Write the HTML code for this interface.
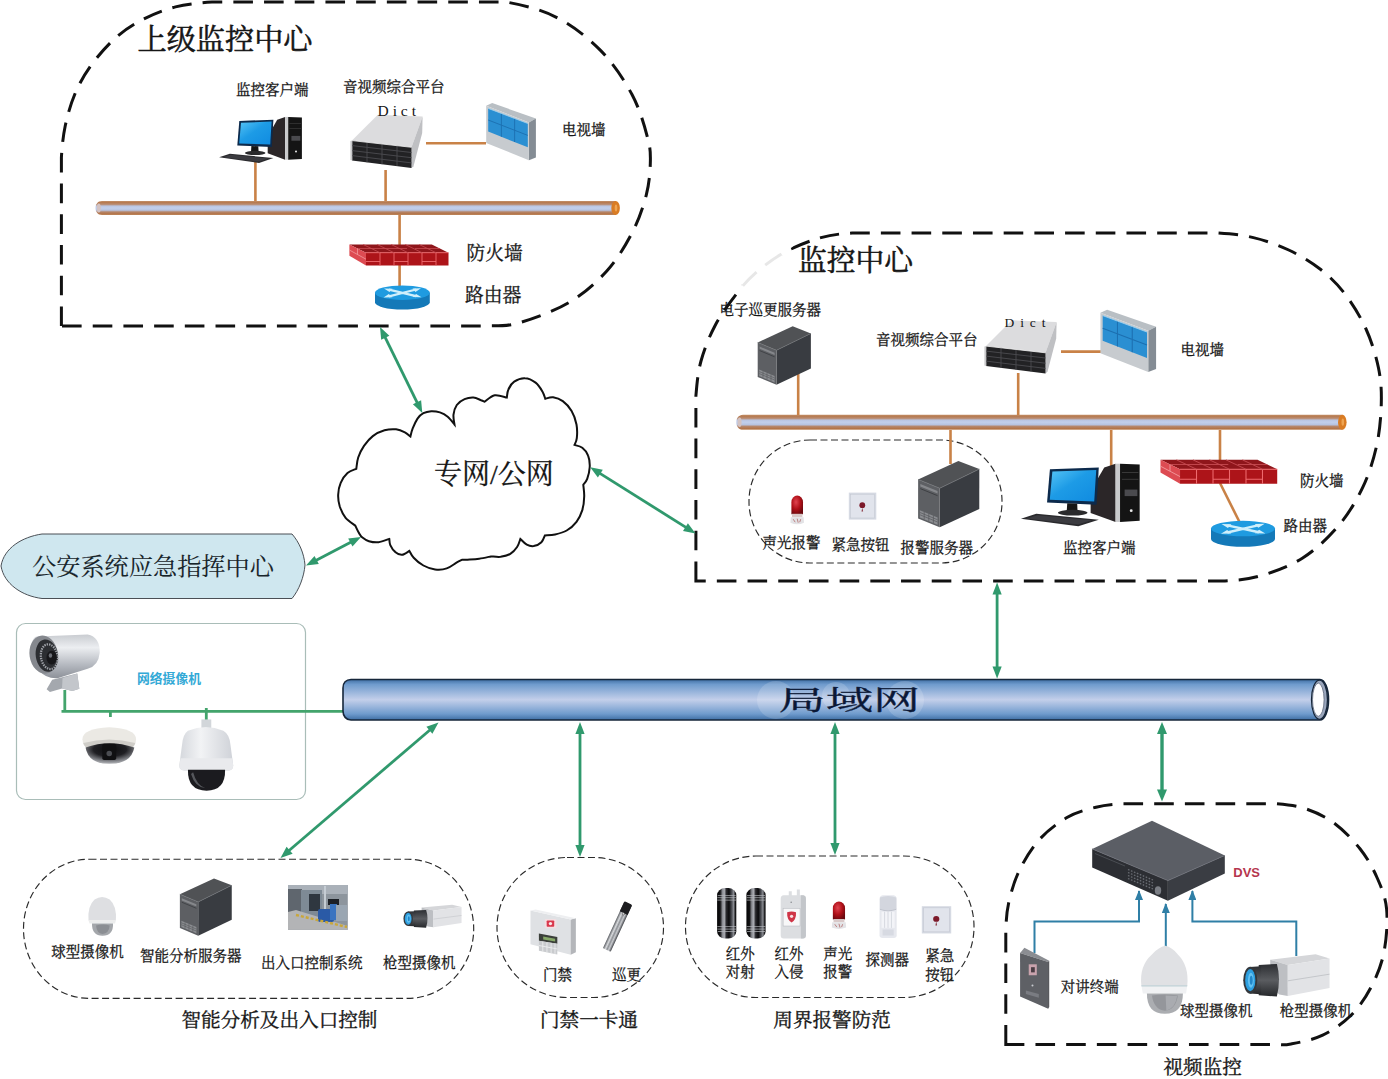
<!DOCTYPE html>
<html lang="zh-CN">
<head>
<meta charset="utf-8">
<title>监控系统拓扑图</title>
<style>
html,body{margin:0;padding:0;background:#fff;overflow:hidden}
svg{display:block}
text{font-family:"Liberation Serif","Noto Serif CJK SC",serif;fill:#151515;stroke:#151515;stroke-width:0.28px}
.t14{font-size:14.5px}
.t19{font-size:19.6px;stroke-width:0.35px}
.t29{font-size:29px;stroke-width:0.55px}
.sans{font-family:"Liberation Sans","Noto Sans CJK SC",sans-serif;stroke:none}
.or{stroke:#c98247;stroke-width:2.6;fill:none}
.gr{stroke:#43a46c;stroke-width:2.8;fill:none}
.bl{stroke:#2f7fa6;stroke-width:2;fill:none}
.bd{stroke:#111;stroke-width:3;fill:none;stroke-dasharray:19.6 11.1}
.sd{stroke:#2a2a2a;stroke-width:1.15;fill:none;stroke-dasharray:7 3.5}
</style>
</head>
<body>
<svg width="1388" height="1079" viewBox="0 0 1388 1079">
<defs>
<linearGradient id="gLan" x1="0" y1="0" x2="0" y2="1">
<stop offset="0" stop-color="#3f6fa5"/><stop offset="0.12" stop-color="#6f9bcd"/><stop offset="0.5" stop-color="#c3cfea"/><stop offset="0.85" stop-color="#6f9bcd"/><stop offset="1" stop-color="#3f6fa5"/>
</linearGradient>
<linearGradient id="gBus" x1="0" y1="0" x2="0" y2="1">
<stop offset="0" stop-color="#c4916a"/><stop offset="0.1" stop-color="#b67a50"/><stop offset="0.24" stop-color="#b98b70"/><stop offset="0.36" stop-color="#b9c5e2"/><stop offset="0.5" stop-color="#c2cfeb"/><stop offset="0.66" stop-color="#b7c3e0"/><stop offset="0.78" stop-color="#b6866a"/><stop offset="0.92" stop-color="#b27448"/><stop offset="1" stop-color="#c08a60"/>
</linearGradient>
<marker id="ag" viewBox="0 0 12 10" refX="11" refY="5" markerWidth="12" markerHeight="10" markerUnits="userSpaceOnUse" orient="auto-start-reverse">
<path d="M0,0.6L12,5L0,9.4Z" fill="#2f9c66"/>
</marker>
<marker id="ab" viewBox="0 0 10 8" refX="9" refY="4" markerWidth="11" markerHeight="8" markerUnits="userSpaceOnUse" orient="auto">
<path d="M0,0L10,4L0,8Z" fill="#2f7fa6"/>
</marker>
<linearGradient id="gScr" x1="0" y1="0" x2="1" y2="1"><stop offset="0" stop-color="#55c3f5"/><stop offset="0.45" stop-color="#1d9be6"/><stop offset="1" stop-color="#108be0"/></linearGradient>
<g id="pc">
<path d="M58.2,3.7L66.1,0.9L66.1,43.7L48.7,37.2L48.7,20.7Z" fill="#2b2628"/>
<rect x="66.1" y="0.9" width="3.2" height="42.8" fill="#c9cacc"/>
<path d="M69.2,0.9L82.9,1.4L82.9,42.9L69.2,43.7Z" fill="#141414"/>
<rect x="72.4" y="19.9" width="8.9" height="4.8" fill="#4a4a4e"/>
<rect x="70.5" y="7" width="11.5" height="0.7" fill="#3a3a3a"/><rect x="70.5" y="12" width="11.5" height="0.7" fill="#3a3a3a"/>
<circle cx="77" cy="35.4" r="1" fill="#e8e8e8"/>
<path d="M20.3,4.9L54.4,3.7L52.8,31L18.3,29.4Z" fill="#0c2a4c"/>
<path d="M22,6.7L52.6,5.6L51.2,28.6L20.2,27.4Z" fill="url(#gScr)"/>
<path d="M32.4,30L39.3,30.3L39.6,35.8L32,35.8Z" fill="#161616"/>
<ellipse cx="36.2" cy="36.9" rx="10.3" ry="2.1" fill="#2a2a2c"/>
<path d="M0.1,41.3L10.8,37.7L54.4,42.1L40.1,46.9Z" fill="#2a2a2d"/>
<path d="M4,41.2L11.5,38.8L49.5,42.4L40,45.5Z" fill="#3b3b40"/>
</g>
<g id="rack">
<path d="M0,26.6L25.8,0.8L70.6,2.4L59.5,33.3Z" fill="#dcdcde"/>
<path d="M59.5,33.3L70.6,2.4L70.2,19L61.5,52.3L59.5,53.9Z" fill="#bfc0c3"/>
<path d="M0,26.6L59.5,33.3L59.5,53.9L0,46.4Z" fill="#222224"/>
<path d="M-1.6,27L0.4,26.6L0.4,46.6L-1.6,46Z" fill="#c8c8ca"/>
<path d="M0,31.6L59.5,38.5M0,36.6L59.5,43.7M0,41.6L59.5,48.9M15,28.3L15,48.3M30,30L30,50.2M45,31.7L45,52" stroke="#4c4c50" stroke-width="0.9" fill="none"/>
<path d="M0,26.6L59.5,33.3" stroke="#f2f2f2" stroke-width="0.8"/>
</g>
<g id="tv">
<path d="M0.2,2.7L6.2,0L49.9,15.6L42.9,19.4Z" fill="#b9bfc4"/>
<path d="M42.9,19.4L49.9,15.6L49.9,54.5L42.9,57.2Z" fill="#848c94"/>
<path d="M0.2,2.7L42.9,19.4L42.9,57.2L0.2,40Z" fill="#c7cbcf"/>
<path d="M2.2,5.4L41.8,20.5L41.8,44.3L2.2,28.6Z" fill="#2a8fd2"/>
<path d="M2.2,17L41.8,32.4M15.4,10.4L15.4,33.8M28.6,15.4L28.6,39" stroke="#1c6fb0" stroke-width="0.9" fill="none"/>
<path d="M2.2,5.4L41.8,20.5" stroke="#9ad0f0" stroke-width="0.8"/>
</g>
<g id="fw">
<path d="M0.4,0.4L82.8,0.4L99.5,8.7L17,8.7Z" fill="#8f161b"/>
<path d="M0.4,0.4L17,8.7L17,21.6L0.4,11.7Z" fill="#dd4b52"/>
<path d="M17,8.7L99.5,8.7L99.5,21.6L17,21.6Z" fill="#ad1419"/>
<path d="M17,8.7L99.5,8.7M17,17.5L31,17.5M45,17.5L59,17.5M73,17.5L87,17.5M31,8.7L31,21.6M45,8.7L45,21.6M59,8.7L59,21.6M73,8.7L73,21.6M87,8.7L87,21.6" stroke="#ee6a6e" stroke-width="0.9" fill="none"/>
<path d="M14,0.4L31,8.7M28,0.4L45,8.7M42,0.4L59,8.7M56,0.4L73,8.7M70,0.4L87,8.7M8.7,4.5L58,4.5M66,4.5L91,4.5" stroke="#c54a50" stroke-width="0.8" fill="none"/>
<path d="M0.4,6L17,15.2M8.5,4.5L8.5,10.5" stroke="#f2999c" stroke-width="0.8" fill="none"/>
</g>
<g id="router">
<path d="M0,7.2L0,16.8A27.4,7.2 0 0 0 54.8,16.8L54.8,7.2Z" fill="#1479b8"/>
<ellipse cx="27.4" cy="7.2" rx="27.4" ry="7.2" fill="#1f9be0"/>
<path d="M14,4.2L41,10.6M41,4L14,10.8" stroke="#cfeffb" stroke-width="2.3" fill="none"/>
<path d="M9,3L17.500,3.2L14.500,6.6ZM46,2.8L37.500,3L40.500,6.400ZM8.500,12L17.500,11.8L13.800,8.600ZM46.500,11.8L37.500,11.6L41.200,8.400Z" fill="#cfeffb"/>
</g>
<g id="tower">
<path d="M0.7,16.5L35.7,0.3L53.9,7.4L19.5,24.3Z" fill="#505255"/>
<path d="M19.5,24.3L53.9,7.4L53.9,42.5L19.5,58.7Z" fill="#393c41"/>
<path d="M0.7,16.5L19.5,24.3L19.5,58.7L0.7,50.9Z" fill="#5d5f63"/>
<path d="M2.6,20.6L17.6,26.8L17.6,29L2.6,22.8Z" fill="#85878b"/>
<path d="M2.6,24.6L17.6,30.8" stroke="#3a3c40" stroke-width="0.8"/>
<path d="M2.2,43.6L17.6,50L17.6,56.4L2.2,50Z" fill="#8a8c90"/>
<path d="M2.2,45.6L17.6,52M2.2,47.6L17.6,54M6,45.2L6,51.6M10,46.8L10,53.2M14,48.5L14,54.9" stroke="#55575b" stroke-width="0.6" fill="none"/>
<path d="M0.7,16.5L19.5,24.3L53.9,7.4" stroke="#707276" stroke-width="0.7" fill="none"/>
</g>
<radialGradient id="gSir" cx="0.4" cy="0.35" r="0.7"><stop offset="0" stop-color="#e04450"/><stop offset="0.55" stop-color="#b01018"/><stop offset="1" stop-color="#6a080e"/></radialGradient>
<g id="siren">
<path d="M1.2,19L1.2,7A5.8,6.6 0 0 1 12.8,7L12.8,19Z" fill="url(#gSir)"/>
<rect x="1.8" y="18.6" width="10.4" height="3.4" fill="#d9c9c9"/>
<path d="M0.6,22L13.4,22L13.8,27.5Q7,30.5 0.2,27.5Z" fill="#e3e3e6"/>
<path d="M3,24L5,27M7,23.5L8,27.5M10.5,24L9.5,27" stroke="#b36a6a" stroke-width="0.8"/>
</g>
<g id="ebtn">
<rect x="0" y="0" width="27.5" height="27" fill="#d6dae3"/>
<rect x="1.6" y="1.6" width="24.3" height="23.8" fill="#e1e4ec" stroke="#c4c8d2" stroke-width="0.6"/>
<circle cx="13.5" cy="12.6" r="2.9" fill="#7c1a2a"/>
<path d="M13.5,15L12.7,19L14.3,19Z" fill="#8b3a46"/>
</g>
<linearGradient id="gSilv" x1="0" y1="0" x2="0" y2="1"><stop offset="0" stop-color="#c9ccd1"/><stop offset="0.3" stop-color="#eceef1"/><stop offset="0.7" stop-color="#b4b8bf"/><stop offset="1" stop-color="#8d9199"/></linearGradient>
<radialGradient id="gDomeGlass" cx="0.5" cy="0.3" r="0.75"><stop offset="0" stop-color="#0c0c0e"/><stop offset="0.45" stop-color="#1f1f23"/><stop offset="0.8" stop-color="#8f9196"/><stop offset="1" stop-color="#c8c9cc"/></radialGradient>
<linearGradient id="gPtz" x1="0" y1="0" x2="1" y2="0"><stop offset="0" stop-color="#d4d7dc"/><stop offset="0.4" stop-color="#f2f3f5"/><stop offset="1" stop-color="#cfd2d8"/></linearGradient>
<linearGradient id="gLens" x1="0" y1="0" x2="0" y2="1"><stop offset="0" stop-color="#2c2e32"/><stop offset="0.5" stop-color="#5a5c60"/><stop offset="1" stop-color="#26282b"/></linearGradient>
<g id="boxcam">
<path d="M415,245L790,200L905,235L560,290Z" fill="#d5d6d9"/>
<path d="M415,245L560,290L560,545L490,532L415,470Z" fill="#bdbfc3"/>
<path d="M560,290L905,235L905,480L560,545Z" fill="#e2e3e6"/>
<path d="M560,420L905,365" stroke="#b9bbbf" stroke-width="6" fill="none"/>
<path d="M320,290L470,280Q505,400 470,550L320,540Z" fill="url(#gLens)"/>
<path d="M245,305L340,300L340,530L245,525Z" fill="url(#gLens)"/>
<ellipse cx="250" cy="415" rx="58" ry="112" fill="#34373b"/>
<ellipse cx="250" cy="415" rx="42" ry="92" fill="#2d9fe0"/>
<ellipse cx="255" cy="415" rx="24" ry="62" fill="#63c2f2"/>
<ellipse cx="258" cy="415" rx="12" ry="38" fill="#2287c9"/>
</g>
<g id="sdome">
<path d="M30,170Q30,95 100,0Q170,95 170,170Z" fill="#dcdde0" transform="translate(0,0)"/>
</g>
<linearGradient id="gIR" x1="0" y1="0" x2="1" y2="0"><stop offset="0" stop-color="#050506"/><stop offset="0.16" stop-color="#111113"/><stop offset="0.28" stop-color="#8a8c92"/><stop offset="0.38" stop-color="#a9abb1"/><stop offset="0.48" stop-color="#2a2a2e"/><stop offset="0.62" stop-color="#0a0a0c"/><stop offset="0.76" stop-color="#4d4f55"/><stop offset="0.86" stop-color="#8a8c92"/><stop offset="0.95" stop-color="#19191b"/><stop offset="1" stop-color="#050506"/></linearGradient>
<g id="irbeam">
<rect x="0" y="0" width="19.2" height="50.4" rx="8" ry="7" fill="url(#gIR)"/>
<path d="M0.6,7.5L18.6,7.5M0.3,9.6L18.9,9.6M0.2,12L19,12M0.2,38.5L19,38.5M0.3,41L18.9,41M0.6,43.4L18.6,43.4" stroke="#b9bbc0" stroke-width="0.7" fill="none"/>
</g>
<linearGradient id="gStick" x1="0" y1="0" x2="1" y2="0"><stop offset="0" stop-color="#5a5d62"/><stop offset="0.3" stop-color="#d9dbde"/><stop offset="0.5" stop-color="#8e9196"/><stop offset="0.7" stop-color="#c9cbcf"/><stop offset="1" stop-color="#3e4045"/></linearGradient>
<!--ICONDEFS-->
</defs>
<rect width="1388" height="1079" fill="#fff"/>

<!-- ===== big dashed regions ===== -->
<path class="bd" d="M61.4,326L61.4,157.5C62.0,147.2 63.0,136.5 65.2,126.0C67.4,115.5 70.5,104.5 74.7,94.5C78.9,84.5 83.6,75.7 90.4,66.2C97.2,56.8 106.7,45.7 115.6,37.8C124.5,29.9 134.0,24.0 144.0,18.9C154.0,13.8 164.2,9.7 175.5,6.9C186.8,4.1 199.2,2.8 212.0,2.0L506,2C521.1,4.6 540.6,9.2 556.4,17.3C572.1,25.4 587.9,37.5 600.5,50.4C613.1,63.3 624.1,79.8 632.0,94.5C639.9,109.2 644.8,127.0 647.8,138.6C650.8,150.2 650.6,154.4 650.3,163.8C650.0,173.2 649.2,183.8 646.2,195.3C643.2,206.8 638.6,220.4 632.0,233.0C625.4,245.6 617.3,259.4 606.8,271.0C596.3,282.6 583.7,293.8 569.0,302.5C554.3,311.2 532.8,319.1 518.6,323.0C504.4,326.9 496.4,325.5 484.0,326.0Z"/>
<path class="bd" d="M695.9,581L695.9,396C696.8,385.2 697.8,372.7 701.0,361.0C704.2,349.3 709.1,336.9 715.0,325.7C720.9,314.5 729.6,302.8 736.4,294.0C743.2,285.2 747.5,279.9 755.7,272.8C763.9,265.8 774.8,257.6 785.7,251.7C796.6,245.8 810.0,240.7 821.0,237.6C832.0,234.5 841.0,233.8 852.0,233.0L1218,233C1229.7,233.8 1241.6,234.8 1253.4,237.6C1265.2,240.4 1277.5,244.7 1288.7,250.0C1299.9,255.3 1311.0,262.0 1320.4,269.3C1329.8,276.6 1337.4,284.1 1345.0,294.0C1352.6,303.9 1360.4,316.7 1366.0,329.0C1371.6,341.3 1376.0,355.7 1378.5,368.0C1381.0,380.3 1381.6,390.1 1381.3,403.0C1381.0,415.9 1379.8,431.3 1376.7,445.4C1373.6,459.5 1369.0,474.2 1362.6,487.7C1356.1,501.2 1348.0,514.7 1338.0,526.4C1328.0,538.1 1315.6,549.8 1302.7,558.0C1289.8,566.2 1273.5,572.0 1260.5,575.8C1247.5,579.6 1236.8,580.1 1225.0,581.0Z"/>
<path class="bd" d="M1005.8,1044.5L1005.8,929C1006.3,920.5 1006.5,912.8 1008.6,903.3C1010.8,893.8 1013.7,882.3 1018.7,871.8C1023.7,861.3 1030.7,849.3 1038.8,840.2C1046.9,831.1 1057.9,822.8 1067.4,817.3C1076.9,811.8 1087.1,809.5 1096.0,807.2C1104.9,805.0 1112.7,804.4 1121.0,803.8L1276.8,803.8C1286.2,804.6 1296.0,805.5 1305.5,808.7C1315.0,811.9 1324.9,816.3 1334.0,823.0C1343.1,829.7 1352.8,839.7 1360.0,848.8C1367.2,857.9 1372.6,867.5 1377.0,877.5C1381.4,887.5 1385.4,896.6 1386.6,909.0C1387.8,921.4 1386.5,939.1 1384.0,952.0C1381.5,964.9 1376.9,976.0 1371.4,986.5C1366.0,997.0 1359.4,1006.9 1351.3,1015.0C1343.2,1023.1 1332.8,1030.4 1322.7,1035.2C1312.7,1040.0 1299.1,1042.4 1291.0,1043.9C1282.9,1045.5 1280.2,1044.4 1274.0,1044.5Z"/>

<path d="M742,292L800,240L800,232L742,232Z" fill="#fff" opacity="0.9"/>
<!-- ===== small dashed regions ===== -->
<rect class="sd" x="23.5" y="859.2" width="450.2" height="139.2" rx="66" ry="69.6"/>
<rect class="sd" x="497" y="857.5" width="166.5" height="140" rx="70" ry="70"/>
<rect class="sd" x="685.5" y="856" width="288.5" height="141.5" rx="70.5"/>
<rect class="sd" x="749" y="440" width="253" height="123" rx="61"/>

<!-- ===== cloud ===== -->
<path id="cloud" fill="#fff" stroke="#111" stroke-width="2" stroke-linejoin="miter" d="M356.3,468.8C356.6,467.0 356.9,461.4 358.2,457.5C359.5,453.7 361.6,449.4 364.0,445.9C366.5,442.3 369.4,438.7 372.8,436.1C376.2,433.6 380.6,431.4 384.5,430.3C388.4,429.2 392.7,429.0 396.1,429.3C399.6,429.7 402.5,431.1 404.9,432.3C407.3,433.5 409.4,435.8 410.4,436.5C410.7,435.2 411.5,431.3 412.7,428.4C413.9,425.4 415.8,421.2 417.5,418.6C419.3,416.1 421.1,414.4 423.4,413.2C425.7,412.0 428.4,411.4 431.2,411.2C433.9,411.1 437.2,411.5 439.9,412.4C442.7,413.3 445.3,414.7 447.7,416.7C450.1,418.7 453.4,423.2 454.5,424.5C454.3,422.9 453.1,418.0 453.5,414.7C453.9,411.5 455.0,407.6 456.8,405.0C458.7,402.4 461.8,400.4 464.6,399.2C467.3,398.0 470.6,397.5 473.3,397.6C476.1,397.8 479.2,399.5 481.1,400.2C483.0,400.8 484.0,401.5 484.6,401.7C486.3,400.6 491.1,396.0 494.7,395.3C498.4,394.6 504.8,397.2 506.8,397.6C507.1,396.3 507.1,392.1 508.4,389.5C509.6,386.8 511.4,383.6 514.2,381.7C517.0,379.8 521.3,378.0 524.9,378.2C528.5,378.3 532.7,380.4 535.6,382.6C538.5,384.9 540.8,388.7 542.4,391.4C544.0,394.1 544.8,397.6 545.3,398.8C546.6,398.5 550.2,396.8 553.1,397.2C556.0,397.6 559.8,398.9 562.8,401.1C565.9,403.4 569.3,407.0 571.6,410.9C573.9,414.7 575.6,419.9 576.5,424.5C577.3,429.0 577.2,434.7 576.8,438.1C576.5,441.5 574.9,443.8 574.5,444.9C575.8,445.4 580.0,446.0 582.3,447.8C584.6,449.6 586.9,452.4 588.1,455.6C589.4,458.8 589.9,463.4 589.7,467.3C589.5,471.2 588.2,476.0 587.2,478.9C586.1,481.9 583.9,483.8 583.3,484.8C583.4,486.7 584.4,492.2 584.2,496.5C584.1,500.7 583.6,505.9 582.3,510.1C581.0,514.3 579.1,518.3 576.5,521.8C573.9,525.2 570.3,528.4 566.7,530.5C563.2,532.6 558.7,533.6 555.1,534.4C551.4,535.2 546.6,535.2 544.9,535.4C544.4,536.5 543.3,540.4 541.4,542.2C539.6,544.0 536.1,545.6 533.7,546.1C531.2,546.5 529.1,545.9 526.8,544.7C524.6,543.5 521.5,539.8 520.4,538.9C519.9,540.2 518.8,544.5 517.1,547.0C515.4,549.5 513.1,552.2 510.3,553.9C507.6,555.5 503.8,556.3 500.6,556.8C497.3,557.2 492.5,556.4 490.9,556.4C488.9,556.8 483.1,558.2 479.2,558.7C475.3,559.3 470.3,559.5 467.5,559.7C464.7,559.9 463.2,559.7 462.3,559.7C461.3,560.2 459.1,561.1 456.5,562.6C453.9,564.1 450.3,567.3 446.7,568.4C443.2,569.6 438.9,569.9 435.1,569.4C431.2,568.9 427.0,567.5 423.4,565.5C419.8,563.6 416.0,560.2 413.7,557.7C411.3,555.3 410.1,552.1 409.4,550.9C408.1,551.6 404.4,554.7 402.0,554.8C399.6,555.0 397.1,553.5 395.2,551.9C393.2,550.3 391.3,547.3 390.3,545.1C389.3,542.9 389.5,539.9 389.3,538.9C387.6,539.4 382.0,541.8 378.6,542.2C375.2,542.6 371.7,542.0 368.9,541.2C366.2,540.4 363.7,538.6 362.1,537.3C360.5,536.0 360.3,535.4 359.2,533.4C358.0,531.5 355.9,526.9 355.3,525.6C353.7,524.3 348.2,521.1 345.6,517.9C343.0,514.6 341.0,510.1 339.7,506.2C338.5,502.3 338.0,498.4 338.2,494.5C338.3,490.6 339.1,486.4 340.7,482.8C342.3,479.3 344.9,475.4 347.5,473.1C350.1,470.8 354.8,469.5 356.3,468.8Z"/>
<text x="434" y="484" font-size="28">专网/公网</text>

<!-- ===== command centre ===== -->
<path d="M1,566C4,548 22,537 42,534L292,534C299,542 304,553 305,565C304,577 299,590 292,598.5L42,598.5C22,596 4,584 1,566Z" fill="#cfe7ef" stroke="#4a4f55" stroke-width="1"/>
<text x="32" y="575" font-size="24.2" style="fill:#16242a;stroke-width:0.1px">公安系统应急指挥中心</text>

<!-- ===== network camera box ===== -->
<rect x="16.5" y="623.5" width="289" height="176" rx="9" fill="#fff" stroke="#a9bdb8" stroke-width="1.2"/>
<text class="sans" x="137" y="683" font-size="12.8" font-weight="bold" style="fill:#33a9d6">网络摄像机</text>
<path class="gr" d="M64.8,690L64.8,711.3M61.5,711.3L343,711.3M110.4,711L110.4,717M206.3,708L206.3,722"/>

<!-- ===== LAN pipe ===== -->
<path d="M351,679.5L1320,679.5A8.5,20.2 0 0 1 1320,720L351,720C346,720 343,716 343,711L343,688C343,683 346,679.5 351,679.5Z" fill="url(#gLan)" stroke="#16263a" stroke-width="1.6"/>
<ellipse cx="1319.5" cy="699.7" rx="8" ry="19.6" fill="#9aa6bd" stroke="#16263a" stroke-width="1.3"/>
<ellipse cx="1318.3" cy="699.7" rx="5.8" ry="16.6" fill="#fdfdff" stroke="#5a6478" stroke-width="0.8"/>
<circle cx="776" cy="700" r="19" fill="#fff" opacity="0.16"/><circle cx="836" cy="696" r="14" fill="#fff" opacity="0.16"/><circle cx="905" cy="700" r="19" fill="#fff" opacity="0.16"/>
<text transform="translate(778.5,709.5) scale(1.75,1)" font-size="27" style="fill:#0b1836;stroke:#0b1836;stroke-width:0.3px">局域网</text>

<!-- ===== top bus pipes ===== -->
<g id="bus1">
<path d="M102,201L616,201L616,215L102,215C97.5,215 95.5,211.5 95.5,208C95.5,204.500 97.5,201 102,201Z" fill="url(#gBus)"/>
<ellipse cx="98.800" cy="208" rx="2" ry="4.6" fill="#d3c3c3"/>
<ellipse cx="615.6" cy="208" rx="4.3" ry="7" fill="#d97c24"/>
<ellipse cx="616" cy="208" rx="1.3" ry="3.4" fill="#efa552"/>
</g>
<g id="bus2">
<path d="M743,414.7L1342.500,414.7L1342.500,429.8L743,429.8C738.5,429.8 736.3,426 736.3,422.2C736.3,418.500 738.5,414.7 743,414.7Z" fill="url(#gBus)"/>
<ellipse cx="739.6" cy="422.2" rx="2" ry="4.8" fill="#d3c3c3"/>
<ellipse cx="1342.3" cy="422.2" rx="4.3" ry="7.5" fill="#d97c24"/>
<ellipse cx="1342.8" cy="422.2" rx="1.3" ry="3.6" fill="#efa552"/>
</g>

<!-- ===== green arrows ===== -->
<g id="garrows">
<path d="M384.9,336.9L417.4,403.1" stroke="#30996d" stroke-width="2.8" fill="none"/><path d="M422.3,413.0L412.9,404.3L421.1,400.2Z" fill="#30996d"/><path d="M380.0,327.0L381.2,339.8L389.4,335.7Z" fill="#30996d"/>
<path d="M315.8,560.4L351.2,542.1" stroke="#30996d" stroke-width="2.8" fill="none"/><path d="M361.0,537.0L352.5,546.6L348.2,538.4Z" fill="#30996d"/><path d="M306.0,565.5L318.8,564.1L314.5,555.9Z" fill="#30996d"/>
<path d="M599.5,473.1L686.3,527.6" stroke="#30996d" stroke-width="2.8" fill="none"/><path d="M695.6,533.5L683.0,531.0L687.9,523.2Z" fill="#30996d"/><path d="M590.2,467.2L597.9,477.5L602.8,469.7Z" fill="#30996d"/>
<path d="M997.1,593.5L997.1,667.5" stroke="#30996d" stroke-width="2.8" fill="none"/><path d="M997.1,678.5L992.5,666.5L1001.7,666.5Z" fill="#30996d"/><path d="M997.1,582.5L992.5,594.5L1001.7,594.5Z" fill="#30996d"/>
<path d="M430.2,729.7L288.8,850.8" stroke="#30996d" stroke-width="2.8" fill="none"/><path d="M280.5,858.0L286.6,846.7L292.6,853.7Z" fill="#30996d"/><path d="M438.5,722.5L426.4,726.8L432.4,733.8Z" fill="#30996d"/>
<path d="M580.0,733.0L580.0,846.0" stroke="#30996d" stroke-width="2.8" fill="none"/><path d="M580.0,857.0L575.4,845.0L584.6,845.0Z" fill="#30996d"/><path d="M580.0,722.0L575.4,734.0L584.6,734.0Z" fill="#30996d"/>
<path d="M835.0,733.0L835.0,844.0" stroke="#30996d" stroke-width="2.8" fill="none"/><path d="M835.0,855.0L830.4,843.0L839.6,843.0Z" fill="#30996d"/><path d="M835.0,722.0L830.4,734.0L839.6,734.0Z" fill="#30996d"/>
<path d="M1162.0,733.0L1162.0,790.5" stroke="#30996d" stroke-width="3.4" fill="none"/><path d="M1162.0,801.5L1157.0,789.5L1167.0,789.5Z" fill="#30996d"/><path d="M1162.0,722.0L1157.0,734.0L1167.0,734.0Z" fill="#30996d"/>
</g>

<!-- ===== top-left: 上级监控中心 ===== -->
<text class="t29" x="137.5" y="49.5" textLength="175" lengthAdjust="spacingAndGlyphs">上级监控中心</text>
<text class="t14" x="236" y="94.5">监控客户端</text>
<text class="t14" x="343" y="91.5">音视频综合平台</text>
<text class="t14" x="562" y="135">电视墙</text>
<text x="466.5" y="260.3" font-size="18.8">防火墙</text>
<text x="465" y="302" font-size="18.8">路由器</text>
<path class="or" d="M255.4,161L255.4,201M385.6,170L385.6,201M426,143.2L486,143.2M399.6,215L399.6,245M399.6,265L399.6,287"/>
<use href="#pc" x="219" y="116"/>
<use href="#rack" x="352" y="114"/>
<text x="377.5" y="116.3" font-size="15.5" textLength="38.5" lengthAdjust="spacing" style="stroke-width:0">Dict</text>
<use href="#tv" x="486" y="103"/>
<use href="#fw" x="349" y="244"/>
<use href="#router" x="375" y="285.5"/>
<!--SECTION:TOPLEFT-->
<!-- ===== centre: 监控中心 ===== -->
<text class="t29" x="798" y="270.5" textLength="115" lengthAdjust="spacingAndGlyphs">监控中心</text>
<text class="t14" x="719.5" y="314.5">电子巡更服务器</text>
<text class="t14" x="876" y="345">音视频综合平台</text>
<text class="t14" x="1180.5" y="354.5">电视墙</text>
<text class="t14" x="762.5" y="548">声光报警</text>
<text class="t14" x="831.5" y="550">紧急按钮</text>
<text class="t14" x="900.5" y="552.5">报警服务器</text>
<text class="t14" x="1063" y="553">监控客户端</text>
<text class="t14" x="1300" y="486">防火墙</text>
<text class="t14" x="1283.5" y="530.5">路由器</text>
<path class="or" d="M798.2,372L798.2,415M1018.2,373L1018.2,415M1061,351.6L1101.5,351.6M950.5,430L950.5,464M1111.2,430L1111.2,466M1220,430L1220,462M1220,483L1239.5,522"/>
<use href="#tower" x="757" y="326"/>
<use href="#rack" x="986" y="319.5"/>
<text x="1004.5" y="327" font-size="13.5" textLength="41" lengthAdjust="spacing" style="stroke-width:0">Dict</text>
<use href="#tv" transform="translate(1100.2,309.7) scale(1.12,1.09)"/>
<use href="#tower" transform="translate(917.3,460.7) scale(1.15,1.135)"/>
<use href="#siren" x="790.2" y="495.2"/>
<use href="#ebtn" x="848.8" y="492.6"/>
<use href="#pc" transform="translate(1020.8,462.5) scale(1.434,1.36)"/>
<use href="#fw" transform="translate(1160,459.4) scale(1.178,1.13)"/>
<use href="#router" transform="translate(1211,520.8) scale(1.168,1.08)"/>
<!--SECTION:CENTER-->
<!-- bullet camera / dome / ptz (drawn in zoom coords, scale 1/5.783 at 15,620) -->
<g transform="translate(15,620) scale(0.17292)">
<path d="M215,345L360,310L372,398L332,410L272,396L202,416L183,400Z" fill="#a4a8ae"/>
<path d="M272,396L275,335L360,310L372,398L332,410Z" fill="#c3c6cb"/>
<path d="M130,95L420,84Q492,98 490,190Q482,268 420,282L250,336Q180,342 140,292Q82,200 100,122Q110,95 130,95Z" fill="url(#gSilv)"/>
<ellipse cx="166" cy="200" rx="82" ry="111" transform="rotate(-9 166 200)" fill="#85888e"/>
<ellipse cx="184" cy="206" rx="64" ry="94" transform="rotate(-9 184 206)" fill="#2c2e32"/>
<ellipse cx="198" cy="212" rx="48" ry="72" transform="rotate(-9 198 212)" fill="none" stroke="#9fa2a8" stroke-width="13" stroke-dasharray="8 6"/>
<ellipse cx="212" cy="218" rx="30" ry="40" fill="#17171a"/>
<ellipse cx="205" cy="205" rx="10" ry="13" fill="#6d7077"/>
<!-- small dome -->
<path d="M390,690Q390,627 545,620Q700,627 700,690Q700,732 660,747L430,747Q390,732 390,690Z" fill="#ebe9e4"/>
<path d="M395,712Q545,670 695,712Q692,735 660,747L430,747Q398,735 395,712Z" fill="#cfcdc8"/>
<path d="M408,737Q545,688 690,737Q672,832 545,832Q425,832 408,737Z" fill="url(#gDomeGlass)"/>
<rect x="505" y="715" width="80" height="95" rx="10" fill="#101012"/>
<circle cx="545" cy="772" r="16" fill="#4b4d52"/>
<!-- ptz -->
<rect x="1078" y="575" width="57" height="55" fill="#d2d6da"/>
<path d="M1000,640Q1105,598 1205,640Q1242,662 1246,722L1262,842Q1262,870 1230,872L985,872Q950,870 950,842L966,722Q970,662 1000,640Z" fill="url(#gPtz)"/>
<path d="M958,800L1256,800L1262,842Q1262,870 1230,872L985,872Q950,870 950,842Z" fill="#e9eaed"/>
<path d="M1000,866L1215,866Q1217,987 1108,987Q998,987 1000,866Z" fill="#1b1b1f"/>
<path d="M1030,880Q1050,955 1100,972Q1040,965 1018,890Z" fill="#55575c"/>
</g>
<!--SECTION:CAMS-->
<!-- ===== bottom-left group ===== -->
<text class="t14" x="51.2" y="957">球型摄像机</text>
<text class="t14" x="140" y="961">智能分析服务器</text>
<text class="t14" x="261" y="968">出入口控制系统</text>
<text class="t14" x="383" y="968">枪型摄像机</text>
<text class="t19" x="181.5" y="1027.3">智能分析及出入口控制</text>
<!-- small speed dome (zoom coords origin 60,870 scale 1/6.94) -->
<g transform="translate(60,870) scale(0.14409)">
<path d="M198,350Q190,250 240,205Q292,170 345,205Q395,250 388,350Z" fill="#dedfe2"/>
<path d="M198,348L388,348L382,372L205,372Z" fill="#eceded"/>
<path d="M222,372L368,372Q372,455 295,457Q220,455 222,372Z" fill="#a4a7ab"/>
<path d="M250,385Q300,370 345,385Q340,440 295,445Q255,440 250,385Z" fill="#8b8e93"/>
</g>
<use href="#tower" transform="translate(179.2,878.1) scale(0.975,0.98)"/>
<!-- photo -->
<g>
<rect x="288" y="885" width="59.8" height="44.8" fill="#8d959d"/>
<rect x="288" y="885" width="59.8" height="9" fill="#aab1b9"/>
<rect x="288" y="889" width="14" height="26" fill="#5f666e"/>
<rect x="301" y="890" width="21" height="27" fill="#7e8a95"/>
<rect x="309" y="894" width="11" height="17" fill="#2f3740"/>
<rect x="324" y="886" width="2" height="30" fill="#c5ccd3"/>
<rect x="328" y="899" width="11" height="6" fill="#1c2026"/>
<path d="M288,912L296,910L347.8,926L347.8,929.8L288,929.8Z" fill="#b3b4b6"/>
<rect x="318" y="909" width="16" height="13" rx="2" fill="#2a5aa6"/>
<rect x="330" y="904" width="7" height="16" fill="#3a74c0"/>
<rect x="336" y="905" width="11" height="16" fill="#9aa6b2"/>
<path d="M296,915L347,927" stroke="#c9a73a" stroke-width="2.4" stroke-dasharray="3 2" fill="none"/>
</g>
<use href="#boxcam" transform="translate(387.8,891.5) scale(0.0815,0.0657)"/>
<!-- ===== door access group ===== -->
<text class="t14" x="543" y="980">门禁</text>
<text class="t14" x="612" y="980">巡更</text>
<text class="t19" x="540" y="1027.3">门禁一卡通</text>
<g transform="translate(500,880) scale(0.12968)">
<path d="M235,235L545,305L545,577L235,495Z" fill="#dfe1e4"/>
<path d="M545,305L585,295L585,557L545,577Z" fill="#b4b6ba"/>
<path d="M235,235L275,228L585,295L545,305Z" fill="#eeeff1"/>
<rect x="345" y="300" width="90" height="72" rx="8" fill="#f3dfe2"/>
<rect x="360" y="312" width="58" height="48" rx="6" fill="#d9384c"/>
<circle cx="389" cy="336" r="13" fill="#f6e9ea"/>
<path d="M300,412L442,440L442,492L300,468Z" fill="#3b3f3a"/>
<path d="M333,436L425,453L425,474L333,458Z" fill="#86a868"/>
<path d="M300,468L442,492L442,575L300,545Z" fill="#c9cbce"/>
<path d="M330,476L330,552M362,481L362,558M394,486L394,564M424,490L424,570M300,505L442,532" stroke="#f1f2f3" stroke-width="6" fill="none"/>
<!-- patrol stick -->
<g transform="rotate(24.6 985 185)">
<rect x="953" y="180" width="66" height="395" rx="6" fill="url(#gStick)"/>
<path d="M953,186Q953,176 964,176L1008,176Q1019,176 1019,186L1019,262L953,262Z" fill="#1d1d20"/>
<circle cx="986" cy="268" r="9" fill="#e8e8ea" stroke="#333" stroke-width="4"/>
</g>
</g>
<!-- ===== perimeter group ===== -->
<text class="t14" x="725.7" y="959">红外</text><text class="t14" x="725.7" y="977.2">对射</text>
<text class="t14" x="774.5" y="959">红外</text><text class="t14" x="774.5" y="977.2">入侵</text>
<text class="t14" x="823.3" y="959">声光</text><text class="t14" x="823.3" y="977.2">报警</text>
<text class="t14" x="865.6" y="964.6">探测器</text>
<text class="t14" x="925.3" y="961">紧急</text><text class="t14" x="925.3" y="979.5">按钮</text>
<text class="t19" x="773.3" y="1027.3">周界报警防范</text>
<use href="#irbeam" x="717.1" y="888.1"/>
<use href="#irbeam" x="746.4" y="888.1"/>
<g transform="translate(700,875) scale(0.20173)">
<!-- ir intrusion -->
<path d="M440,80L455,80L455,100L480,100L480,72L495,72L495,100L512,100Q525,102 525,118L525,300Q525,315 510,315L415,315Q400,315 400,300L400,118Q400,100 415,100L440,100Z" fill="#dcdee1"/>
<path d="M500,100L512,100Q525,102 525,118L525,300Q525,315 510,315L500,315Z" fill="#c3c6ca"/>
<rect x="412" y="165" width="84" height="88" fill="#f7f7f8" stroke="#b9bcc1" stroke-width="3"/>
<path d="M432,185Q454,176 476,185Q478,222 454,236Q430,222 432,185Z" fill="#cf3547"/>
<circle cx="454" cy="205" r="8" fill="#f6dfe2"/>
<circle cx="452" cy="135" r="4" fill="#8a8d92"/>
<!-- detector -->
<path d="M905,100L960,100Q975,102 975,120L975,300Q975,312 960,312L905,312Q890,312 890,300L890,120Q890,102 905,100Z" fill="#e6e8ee"/>
<path d="M892,112Q932,96 973,112L973,170Q932,182 892,170Z" fill="#d3d6de"/>
<path d="M900,182L965,182L965,262L900,262Z" fill="#f3f4f8"/>
<path d="M915,182L915,262M932,182L932,262M949,182L949,262" stroke="#cfd2da" stroke-width="4"/>
<path d="M892,170Q932,185 973,170" stroke="#b8bcc6" stroke-width="4" fill="none"/>
<path d="M905,270L960,270L960,300L905,300Z" fill="#d7dae2"/>
</g>
<use href="#siren" transform="translate(831.6,901.2) scale(1.05,0.96)"/>
<use href="#ebtn" transform="translate(921.8,906.2) scale(1.07,1.01)"/>
<!--SECTION:BOTTOM-->
<!-- ===== video monitoring ===== -->
<text class="t19" x="1163.5" y="1074">视频监控</text>
<text class="t14" x="1060.8" y="992">对讲终端</text>
<text class="t14" x="1180" y="1015.6">球型摄像机</text>
<text class="t14" x="1279.8" y="1015.6">枪型摄像机</text>
<text class="sans" x="1233.3" y="876.8" font-size="13" font-weight="bold" style="fill:#b5364e">DVS</text>
<path class="bl" d="M1034.5,953L1034.5,921.4L1139,921.4L1139,891" marker-end="url(#ab)"/>
<path class="bl" d="M1165.8,947L1165.8,904" marker-end="url(#ab)"/>
<path class="bl" d="M1296.3,956L1296.3,921.4L1192.4,921.4L1192.4,891" marker-end="url(#ab)"/>
<!-- DVS box -->
<path d="M1092.2,848.9L1152,820.8L1224.8,855.4L1167.9,880.6Z" fill="#5b5e65"/>
<path d="M1092.2,848.9L1167.9,880.6L1167.9,900.8L1092.2,867.6Z" fill="#2c2e33"/>
<path d="M1167.9,880.6L1224.8,855.4L1224.8,873.4L1167.9,900.8Z" fill="#3a3d43"/>
<path d="M1092.2,848.9L1167.9,880.6L1224.8,855.4" stroke="#6d7078" stroke-width="0.8" fill="none"/>
<path d="M1128,869.5L1153,880M1128,872.5L1153,883M1128,875.5L1153,886M1128,878.5L1153,889" stroke="#6a6d74" stroke-width="1.3" stroke-dasharray="1.6 1.6" fill="none"/>
<ellipse cx="1158" cy="890.5" rx="3.2" ry="4.2" fill="#7b7e85"/>
<path d="M1095,853.5L1125,866" stroke="#4a4d53" stroke-width="1" fill="none"/>
<!-- intercom (zoom coords origin 1010,930 scale 1/6.94) -->
<g transform="translate(1010,930) scale(0.14409)">
<path d="M70,160L100,124L272,214L265,222Z" fill="#8b8d92"/>
<path d="M70,160L265,222L265,547L70,462Z" fill="#5e6065"/>
<path d="M265,222L272,214L272,535L265,547Z" fill="#3a3c40"/>
<rect x="130" y="238" width="56" height="76" fill="#c9a3ad"/>
<rect x="146" y="258" width="26" height="36" fill="#4a3d44"/>
<circle cx="156" cy="385" r="7" fill="#c9cbd0"/>
<path d="M110,420L200,445L200,470L110,445Z" fill="#7a7c82"/>
<!-- video dome -->
<path d="M912,388Q895,250 985,170Q1030,120 1078,110Q1125,120 1165,170Q1245,250 1230,388Z" fill="#e0e1e4"/>
<path d="M912,386L1230,386L1222,440L922,440Z" fill="#f0f1f3"/>
<path d="M912,388L1230,388" stroke="#9dbcc4" stroke-width="5"/>
<path d="M950,440L1200,440Q1200,580 1075,582Q950,580 950,440Z" fill="#abadb1"/>
<path d="M985,455Q1075,440 1165,455Q1150,555 1075,560Q1000,555 985,455Z" fill="#94969b"/>
<path d="M1080,455L1160,458Q1150,540 1085,558Z" fill="#a9abb0"/>
</g>
<use href="#boxcam" transform="translate(1220,930) scale(0.12104)"/>
<!--SECTION:VIDEO-->
</svg>
</body>
</html>
